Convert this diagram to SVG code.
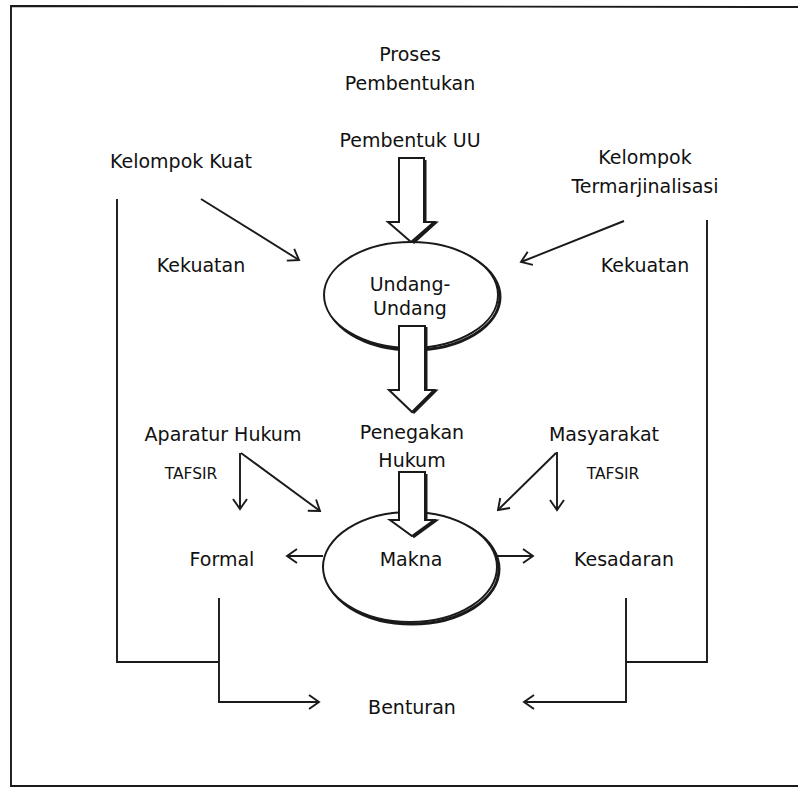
<svg xmlns="http://www.w3.org/2000/svg" width="798" height="787" viewBox="0 0 798 787">
<style>
  text { font-family: "DejaVu Sans", "Liberation Sans", sans-serif; font-size: 19px; fill: #111; text-anchor: middle; }
  .small { font-size: 15.5px; }
  .ln { fill: none; stroke: #1a1a1a; stroke-width: 1.9; }
  .arr { marker-end: url(#open); }
  .shape { fill: #fff; stroke: #1a1a1a; stroke-width: 2; }
  .shadow { fill: none; stroke: #1a1a1a; stroke-width: 3; }
</style>
<defs>
  <marker id="open" viewBox="-12 -9 14 18" markerWidth="14" markerHeight="18" refX="0" refY="0" orient="auto" markerUnits="userSpaceOnUse">
    <path d="M-10,-7 L0,0 L-10,7" fill="none" stroke="#1a1a1a" stroke-width="1.9"/>
  </marker>
</defs>
<rect width="798" height="787" fill="#fff"/>
<path class="ln" d="M798,7 L11,6 L11,786 L798,786" stroke-width="2.2"/>

<g id="title">
  <text x="410" y="61">Proses</text>
  <text x="410" y="90">Pembentukan</text>
</g>
<g id="pembentuk-uu">
  <text x="410" y="147">Pembentuk UU</text>
</g>
<g id="kelompok-kuat">
  <text x="181" y="168">Kelompok Kuat</text>
</g>
<g id="kelompok-termarjinalisasi">
  <text x="645" y="164">Kelompok</text>
  <text x="645" y="193">Termarjinalisasi</text>
</g>
<g id="kekuatan-kiri">
  <text x="201" y="272">Kekuatan</text>
</g>
<g id="kekuatan-kanan">
  <text x="645" y="272">Kekuatan</text>
</g>

<g id="undang-undang">
  <ellipse class="shadow" cx="413" cy="297" rx="87" ry="53"/>
  <ellipse class="shape" cx="411" cy="295" rx="87" ry="53"/>
  <text x="410" y="291">Undang-</text>
  <text x="410" y="315">Undang</text>
</g>

<g id="makna">
  <ellipse class="shadow" cx="412" cy="569" rx="87" ry="55"/>
  <ellipse class="shape" cx="410" cy="567" rx="87" ry="55"/>
  <text x="411" y="566">Makna</text>
</g>

<g id="penegakan-hukum">
  <text x="412" y="439">Penegakan</text>
  <text x="412" y="467">Hukum</text>
</g>
<g id="aparatur-hukum">
  <text x="223" y="441">Aparatur Hukum</text>
  <text class="small" x="191" y="479">TAFSIR</text>
</g>
<g id="masyarakat">
  <text x="604" y="441">Masyarakat</text>
  <text class="small" x="613" y="479">TAFSIR</text>
</g>
<g id="formal">
  <text x="222" y="566">Formal</text>
</g>
<g id="kesadaran">
  <text x="624" y="566">Kesadaran</text>
</g>
<g id="benturan">
  <text x="412" y="714">Benturan</text>
</g>

<g id="connectors">
  <path class="shadow" d="M425,160 L425,223 L435,223 L413,243"/>
  <path class="shape" d="M399,158 L424,158 L424,222 L434,222 L411,242 L388,222 L399,222 Z"/>
  <path class="shadow" d="M426,327 L426,391 L435,391 L413,413"/>
  <path class="shape" d="M399,326 L425,326 L425,390 L434,390 L412,412 L389,390 L399,390 Z"/>
  <path class="shadow" d="M426,474 L426,521 L435,521 L413,537"/>
  <path class="shape" d="M399,472 L425,472 L425,520 L434,520 L412,536 L390,520 L399,520 Z"/>

  <path class="ln arr" d="M201,199 L299,260"/>
  <path class="ln arr" d="M624,221 L521,262"/>
  <path class="ln arr" d="M240,453 L240,509"/>
  <path class="ln arr" d="M241,453 L320,511"/>
  <path class="ln arr" d="M557,452 L557,510"/>
  <path class="ln arr" d="M556,453 L498,510"/>
  <path class="ln arr" d="M323,556 L287,556"/>
  <path class="ln arr" d="M497,556 L533,556"/>

  <path class="ln" d="M117,199 L117,662 L219,662"/>
  <path class="ln arr" d="M219,598 L219,702 L319,702"/>
  <path class="ln" d="M707,220 L707,662 L626,662"/>
  <path class="ln arr" d="M626,598 L626,702 L524,702"/>
</g>
</svg>
